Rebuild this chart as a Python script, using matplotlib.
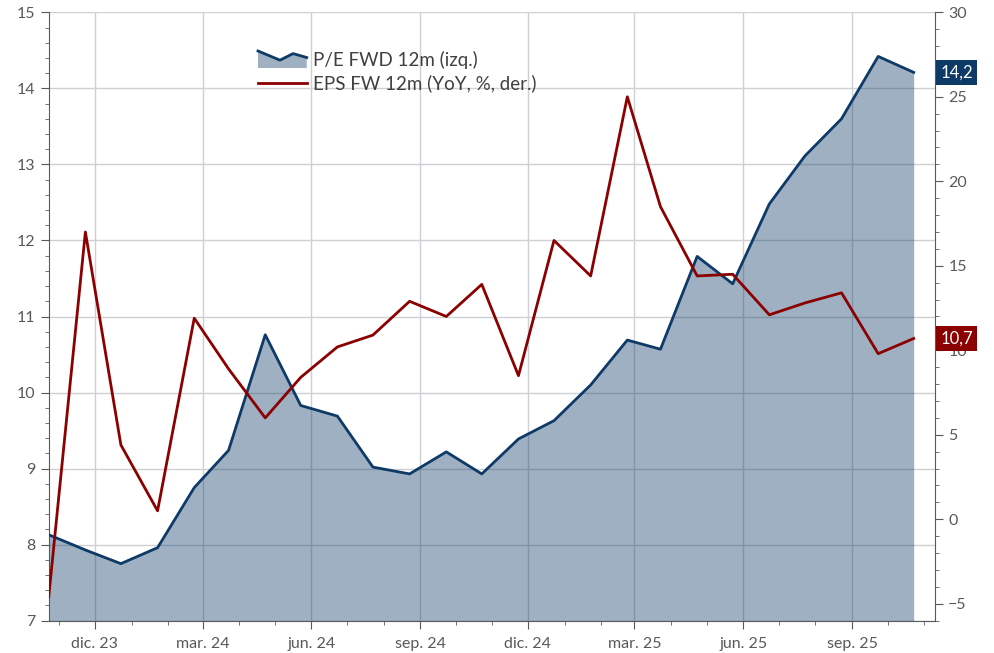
import matplotlib
matplotlib.use("Agg")
import matplotlib.pyplot as plt
import matplotlib.dates as mdates
import matplotlib.transforms as mtransforms
from matplotlib.legend_handler import HandlerBase
from matplotlib.patches import Polygon
from matplotlib.lines import Line2D
from matplotlib.ticker import MultipleLocator, FuncFormatter
import numpy as np
import pandas as pd

# monthly readings, oct-23 .. oct-25
fechas = pd.date_range("2023-10-01", periods=25, freq="MS") + pd.Timedelta(days=22)

pe_fwd = [8.13, 7.93, 7.75, 7.96, 8.75, 9.24, 10.76, 9.83, 9.69, 9.02, 8.93, 9.22, 8.93,
          9.39, 9.63, 10.10, 10.69, 10.57, 11.79, 11.43, 12.48, 13.11, 13.60, 14.42, 14.21]
eps_yoy = [-4.6, 17.0, 4.4, 0.5, 11.9, 8.9, 6.0, 8.4, 10.2, 10.9, 12.9, 12.0, 13.9,
           8.5, 16.5, 14.4, 25.0, 18.5, 14.4, 14.5, 12.1, 12.8, 13.4, 9.8, 10.7]

meses = ["ene", "feb", "mar", "abr", "may", "jun", "jul", "ago", "sep", "oct", "nov", "dic"]
lbl_pe = "P/E FWD 12m (izq.)"
lbl_eps = "EPS FW 12m (YoY, %, der.)"

navy = "#0e3a67"
rojo = "#8b0000"
gris = "#595959"

plt.rcParams["font.family"] = ["Lato", "DejaVu Sans"]


class AreaHandler(HandlerBase):
    def create_artists(self, legend, orig_handle, xdescent, ydescent, width, height, fontsize, trans):
        xs = np.array([0.0, 0.45, 0.72, 1.0]) * width - xdescent
        ys = np.array([1.15, 0.45, 0.95, 0.65]) * height - ydescent
        bot = -ydescent - 0.15 * height
        pts = list(zip(xs, ys)) + [(xs[-1], bot), (xs[0], bot)]
        poly = Polygon(pts, closed=True, fc=navy, alpha=0.4, ec="none", transform=trans)
        ln = Line2D(xs, ys, color=navy, lw=2, transform=trans)
        return [poly, ln]


fig = plt.figure(figsize=(9.95, 6.53), dpi=100)
ax1 = fig.add_axes([48.7 / 995, 32.3 / 653, 886.3 / 995, 608.4 / 653])
ax2 = ax1.twinx()

ax1.fill_between(fechas, pe_fwd, 7, color=navy, alpha=0.4, lw=0, zorder=2)
ax1.plot(fechas, pe_fwd, color=navy, lw=2, zorder=3)
ax2.plot(fechas, eps_yoy, color=rojo, lw=2, zorder=3)

ax1.set_xlim(pd.Timestamp("2023-10-23"), pd.Timestamp("2025-11-10"))
ax1.set_ylim(7, 15)
ax2.set_ylim(-6, 30)

ax1.yaxis.set_major_locator(MultipleLocator(1))
ax1.yaxis.set_minor_locator(MultipleLocator(0.2))
ax2.yaxis.set_major_locator(MultipleLocator(5))
ax2.yaxis.set_minor_locator(MultipleLocator(1))
ax1.xaxis.set_major_locator(mdates.MonthLocator(bymonth=[3, 6, 9, 12]))
ax1.xaxis.set_minor_locator(mdates.MonthLocator())
ax1.xaxis.set_major_formatter(FuncFormatter(
    lambda v, p: "%s. %s" % (meses[mdates.num2date(v).month - 1], mdates.num2date(v).strftime("%y"))))

ax1.set_axisbelow(True)
ax1.grid(True, which="major", color="#cdd1d5", lw=1)

for ax in (ax1, ax2):
    ax.spines["top"].set_visible(False)
    for s in ("left", "right", "bottom"):
        ax.spines[s].set_color(gris)
    ax.tick_params(which="major", length=6, color=gris, labelcolor=gris, labelsize=11.5)
    ax.tick_params(which="minor", length=3, color=gris)
ax1.spines["right"].set_visible(False)
ax2.spines["left"].set_visible(False)
ax2.spines["bottom"].set_visible(False)
ax1.tick_params(axis="x", pad=6)

# last-value tags on the right
trans_pe = mtransforms.blended_transform_factory(ax2.transAxes, ax1.transData)
ax2.annotate(("%.1f" % pe_fwd[-1]).replace(".", ","), xy=(1, pe_fwd[-1]), xycoords=trans_pe,
             xytext=(4, 0), textcoords="offset points", ha="left", va="center",
             color="white", fontsize=12, annotation_clip=False, zorder=10,
             bbox=dict(boxstyle="square,pad=0.25", fc=navy, ec="none"))
ax2.annotate(("%.1f" % eps_yoy[-1]).replace(".", ","), xy=(1, eps_yoy[-1]), xycoords=("axes fraction", "data"),
             xytext=(4, 0), textcoords="offset points", ha="left", va="center",
             color="white", fontsize=12, annotation_clip=False, zorder=10,
             bbox=dict(boxstyle="square,pad=0.25", fc=rojo, ec="none"))

h_pe = Polygon([[0, 0]], fc=navy)
h_eps = Line2D([], [], color=rojo, lw=2)
leg = ax2.legend([h_pe, h_eps], [lbl_pe, lbl_eps], handler_map={Polygon: AreaHandler()},
                 loc="upper left", bbox_to_anchor=(258 / 995, 1 - 51 / 653),
                 bbox_transform=fig.transFigure, frameon=False, fontsize=13.5,
                 handlelength=2.6, handletextpad=0.35, labelspacing=0.3,
                 borderaxespad=0, borderpad=0)
for t in leg.get_texts():
    t.set_color("#404040")

fig.savefig("out.png", dpi=100)
